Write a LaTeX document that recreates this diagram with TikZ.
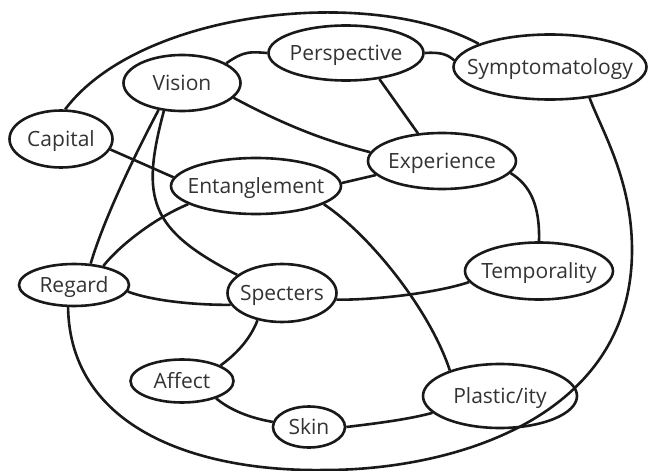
\documentclass[tikz,border=0pt]{standalone}
\usepackage{fontspec}
\setmainfont{Open Sans}
\usetikzlibrary{shapes.geometric}
\newcommand{\wrd}[1]{\makebox[0pt]{#1}}

\begin{document}
\begin{tikzpicture}[x=1pt,y=-1pt]
        \tikzstyle{topic}=[ellipse,draw=black!90,line width=2.6pt,inner sep=0pt,text=black!80,text height=15pt,text depth=0pt,font=\fontsize{21}{25}\selectfont]
        \tikzstyle{link}=[draw=black!90,line width=2.6pt]
        \useasboundingbox (0,0) rectangle (649,471);
        % concepts
        \node[topic,minimum width=117pt,minimum height=56pt] (vision) at (182,83) {\wrd{Vision}};
        \node[topic,minimum width=155pt,minimum height=55pt] (persp) at (346,53) {\wrd{Perspective}};
        \node[topic,minimum width=193pt,minimum height=65pt] (symp) at (550,67) {\wrd{Symptomatology}};
        \node[topic,minimum width=103pt,minimum height=57pt] (capital) at (61,139) {\wrd{Capital}};
        \node[topic,minimum width=170pt,minimum height=56pt] (entangle) at (256,186) {\wrd{Entanglement}};
        \node[topic,minimum width=148pt,minimum height=56pt] (exper) at (442,161) {\wrd{Experience}};
        \node[topic,minimum width=148pt,minimum height=57pt] (tempo) at (539,271) {\wrd{Temporality}};
        \node[topic,minimum width=110pt,minimum height=42pt] (regard) at (74,285) {\wrd{Regard}};
        \node[topic,minimum width=109pt,minimum height=58pt] (specters) at (282,293) {\wrd{Specters}};
        \node[topic,minimum width=103pt,minimum height=43pt] (affect) at (182,381) {\wrd{Affect}};
        \node[topic,minimum width=72pt,minimum height=41pt] (skin) at (309,427) {\wrd{Skin}};
        \node[topic,minimum width=154pt,minimum height=64pt] (plastic) at (500,396) {\wrd{Plastic/ity}};
        % links
        \path[link] (capital.82) .. controls (140,10) and (370,-15) .. (symp.162);
        \path[link] (vision.24) .. controls (245,50) and (252,52) .. (persp.west);
        \path[link] (persp.east) .. controls (440,52) and (447,54) .. (symp.176);
        \path[link] (persp.-38) -- (exper.131);
        \path[link] (vision.-16) .. controls (290,128) and (330,142) .. (exper.173);
        \path[link] (capital.-12) -- (entangle.174);
        \path[link] (entangle.2) -- (exper.-168);
        \path[link] (exper.-10) .. controls (530,185) and (540,205) .. (tempo.north);
        \path[link] (regard.-105) .. controls (70,430) and (200,472) .. (325,470)
                .. controls (450,470) and (632,420) .. (632,250)
                .. controls (632,180) and (602,131) .. (symp.-38);
        \path[link] (vision.-131) .. controls (140,145) and (105,215) .. (regard.52);
        \path[link] (vision.-123) .. controls (140,200) and (150,230) .. (specters.158);
        \path[link] (entangle.-165) .. controls (155,218) and (120,245) .. (regard.33);
        \path[link] (entangle.-15) .. controls (370,235) and (430,310) .. (plastic.153);
        \path[link] (regard.-7) .. controls (150,300) and (190,305) .. (specters.-167);
        \path[link] (specters.-7) .. controls (380,300) and (440,292) .. (tempo.-171);
        \path[link] (specters.-132) .. controls (250,340) and (235,355) .. (affect.22);
        \path[link] (affect.-27) .. controls (230,410) and (250,418) .. (skin.172);
        \path[link] (skin.east) .. controls (380,423) and (410,419) .. (plastic.-166);
\end{tikzpicture}
\end{document}
